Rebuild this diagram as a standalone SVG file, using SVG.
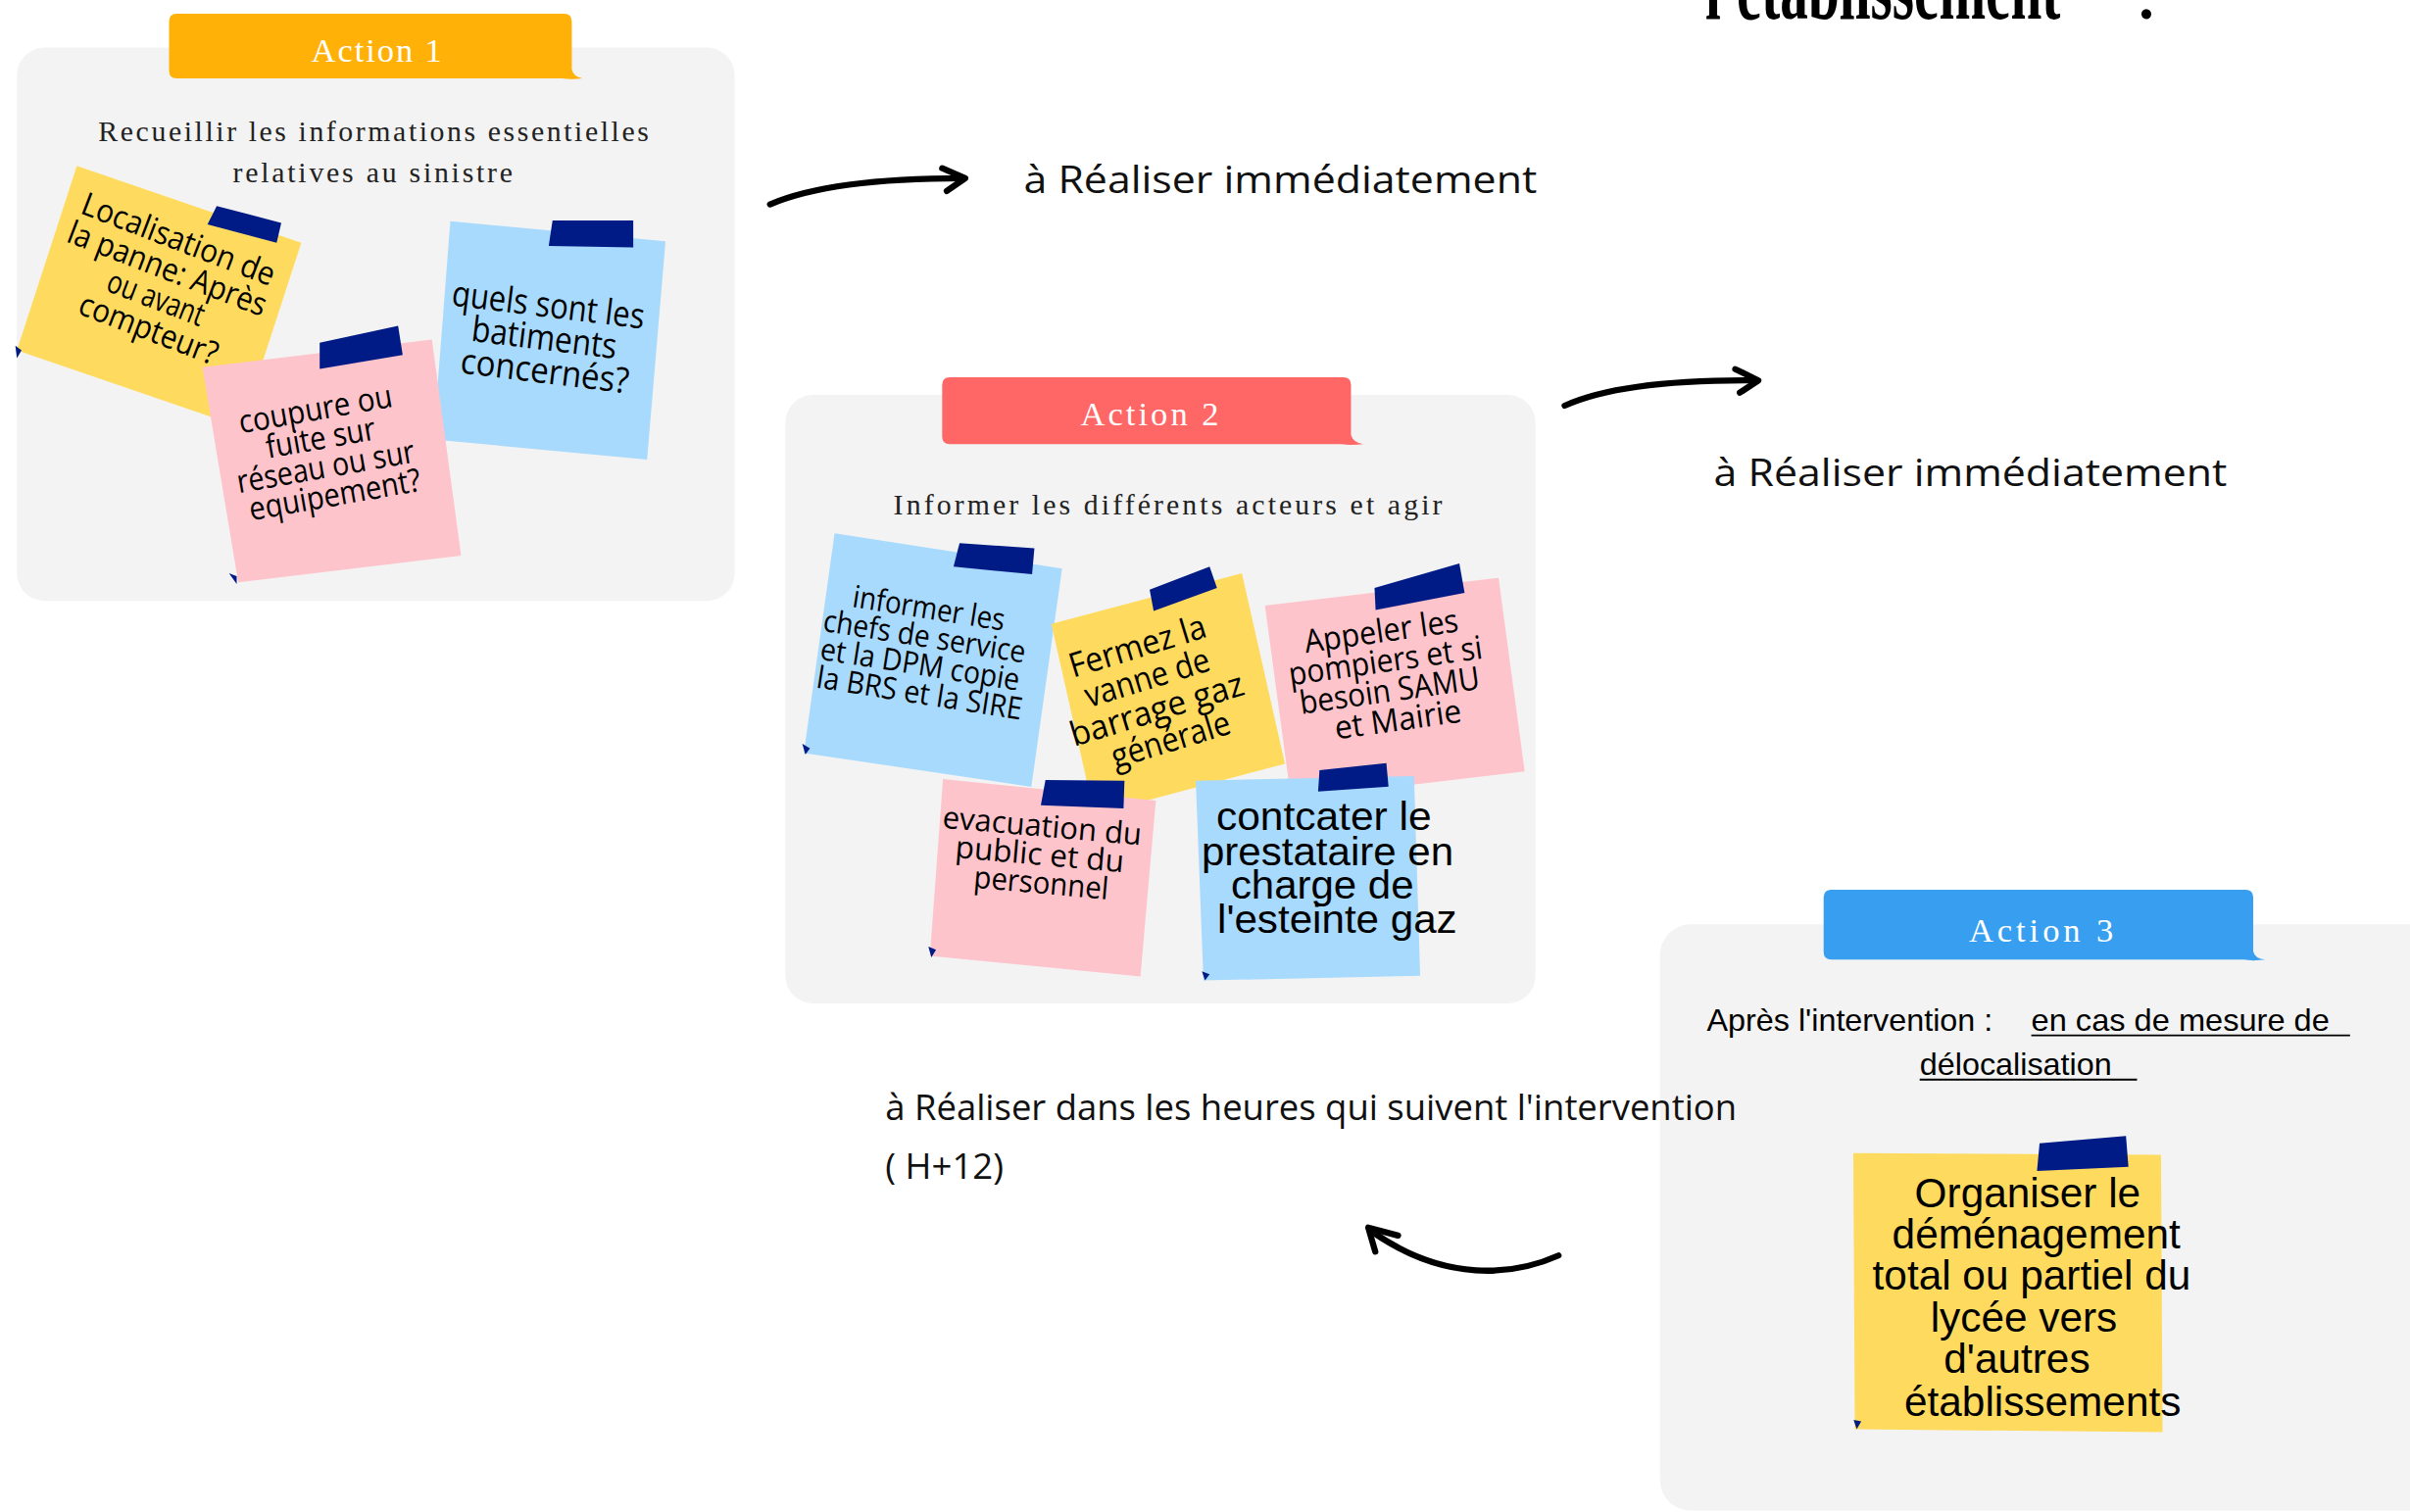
<svg xmlns="http://www.w3.org/2000/svg" width="2459" height="1543" viewBox="0 0 2459 1543">
<style>
.panel{fill:#f3f3f3}
.tape{fill:#001b86}
.corner{fill:#001b86}
.y{fill:#fedb5f}
.b{fill:#a8dafd}
.p{fill:#fec4cc}
.hand{font-family:"Open Sans","DejaVu Sans",sans-serif;fill:#000;text-anchor:middle}
.lbl{font-family:"Liberation Serif",serif;fill:#fff;font-size:22px}
.sub{font-family:"Liberation Serif",serif;fill:#222;font-size:19px}
.cal{font-family:"Open Sans","Lato",sans-serif;fill:#111}
.ar{font-family:"Liberation Sans",Arial,sans-serif;fill:#000}
.arw{fill:none;stroke:#000;stroke-width:4;stroke-linecap:round;stroke-linejoin:round}
.ul{stroke:#000;stroke-width:1.2}
</style>
<rect width="2459" height="1543" fill="#fff"/>
<g transform="scale(1.56824)">
  <g id="title">
    <text x="1109.6" y="12" font-family="Liberation Serif,serif" font-weight="bold" font-size="58" textLength="231" lengthAdjust="spacingAndGlyphs">l'établissement</text>
    <text x="1390" y="12" font-family="Liberation Serif,serif" font-weight="bold" font-size="40">:</text>
  </g>

  <!-- Action 1 -->
  <g id="action1">
    <rect class="panel" x="11" y="31" width="467" height="360" rx="18"/>
    <path fill="#ffb107" d="M115,9 H367 Q372,9 372,14 V45 Q373,50 379,51 Q371,52 366,51 H115 Q110,51 110,46 V14 Q110,9 115,9 Z"/>
    <text class="lbl" x="202.5" y="40.4" textLength="85" lengthAdjust="spacing">Action 1</text>
    <text class="sub" x="64" y="91.8" textLength="358" lengthAdjust="spacing">Recueillir les informations essentielles</text>
    <text class="sub" x="151.5" y="118.4" textLength="182" lengthAdjust="spacing">relatives au sinistre</text>
  </g>
  <g id="note-localisation">
    <polygon class="y" points="50,108 196,158 157,278 11,228"/>
    <polygon class="tape" points="141,134 183,145 180,158 135,146"/>
    <polygon class="corner" points="10,225 14,228 11,233"/>
    <text class="hand" font-size="21" transform="translate(107.5,186) rotate(21)">
      <tspan x="0" y="-24.25" textLength="133" lengthAdjust="spacingAndGlyphs">Localisation de</tspan>
      <tspan x="0" y="-3.75" textLength="137" lengthAdjust="spacingAndGlyphs">la panne: Après</tspan>
      <tspan x="0" y="16.75" textLength="66" lengthAdjust="spacingAndGlyphs">ou avant</tspan>
      <tspan x="0" y="37.25" textLength="95" lengthAdjust="spacingAndGlyphs">compteur?</tspan>
    </text>
  </g>
  <g id="note-batiments">
    <polygon class="b" points="293,144 433,157 421,299 282,286"/>
    <polygon class="tape" points="359.5,143.5 412,143.5 412,161 357,160"/>
    <polygon class="corner" points="281,281 286,283 283,288"/>
    <text class="hand" font-size="23" transform="translate(357,221) rotate(7)">
      <tspan x="0" y="-14.5" textLength="126" lengthAdjust="spacingAndGlyphs">quels sont les</tspan>
      <tspan x="0" y="7" textLength="95" lengthAdjust="spacingAndGlyphs">batiments</tspan>
      <tspan x="0" y="28.5" textLength="110" lengthAdjust="spacingAndGlyphs">concernés?</tspan>
    </text>
  </g>
  <g id="note-coupure">
    <polygon class="p" points="131.7,239 281,221 300,361.5 155,379"/>
    <polygon class="tape" points="208,223 259,212 262,231 208,240"/>
    <polygon class="corner" points="149,373 154,375 154,380"/>
    <text class="hand" font-size="21" transform="translate(213,294.5) rotate(-10)">
      <tspan x="0" y="-22" textLength="101" lengthAdjust="spacingAndGlyphs">coupure ou</tspan>
      <tspan x="0" y="-3" textLength="72" lengthAdjust="spacingAndGlyphs">fuite sur</tspan>
      <tspan x="0" y="16" textLength="117" lengthAdjust="spacingAndGlyphs">réseau ou sur</tspan>
      <tspan x="0" y="35" textLength="113" lengthAdjust="spacingAndGlyphs">equipement?</tspan>
    </text>
  </g>

  <!-- Action 2 -->
  <g id="action2">
    <rect class="panel" x="511" y="257" width="488" height="396" rx="18"/>
    <path fill="#ff6666" d="M618,245.5 H874 Q879,245.5 879,250.5 V283 Q880,288 887,289 Q878,290 873,289 H618 Q613,289 613,284 V250.5 Q613,245.5 618,245.5 Z"/>
    <text class="lbl" x="703" y="276.7" textLength="90" lengthAdjust="spacing">Action 2</text>
    <text class="sub" x="581.3" y="334.8" textLength="357" lengthAdjust="spacing">Informer les différents acteurs et agir</text>
  </g>
  <g id="note-informer">
    <polygon class="b" points="543,347 691,370 671,512 523,490"/>
    <polygon class="tape" points="624.3,353.5 673,356.7 671.5,373.7 620.4,368.8"/>
    <polygon class="corner" points="522,484 527,487 524,491"/>
    <text class="hand" font-size="20" transform="translate(602.5,424.5) rotate(9)">
      <tspan x="0" y="-21.75" textLength="100" lengthAdjust="spacingAndGlyphs">informer les</tspan>
      <tspan x="0" y="-3.25" textLength="133" lengthAdjust="spacingAndGlyphs">chefs de service</tspan>
      <tspan x="0" y="15.25" textLength="131" lengthAdjust="spacingAndGlyphs">et la DPM copie</tspan>
      <tspan x="0" y="33.75" textLength="135" lengthAdjust="spacingAndGlyphs">la BRS et la SIRE</tspan>
    </text>
  </g>
  <g id="note-vanne">
    <polygon class="y" points="684,406 808,373 836,497 712,530"/>
    <polygon class="tape" points="748,383.7 787,368.8 791.8,382.6 750.6,397.5"/>
    <text class="hand" font-size="22" transform="translate(752.5,451.5) rotate(-17)">
      <tspan x="0" y="-25.75" textLength="92" lengthAdjust="spacingAndGlyphs">Fermez la</tspan>
      <tspan x="0" y="-4.25" textLength="84" lengthAdjust="spacingAndGlyphs">vanne de</tspan>
      <tspan x="0" y="17.25" textLength="117" lengthAdjust="spacingAndGlyphs">barrage gaz</tspan>
      <tspan x="0" y="38.75" textLength="80" lengthAdjust="spacingAndGlyphs">générale</tspan>
    </text>
  </g>
  <g id="note-pompiers">
    <polygon class="p" points="823,394 975,376 992,502 840,520"/>
    <polygon class="tape" points="894.3,382.6 949.5,366.7 952.9,385.8 895,397"/>
    <text class="hand" font-size="21" transform="translate(905.5,440) rotate(-8)">
      <tspan x="0" y="-22.75" textLength="101" lengthAdjust="spacingAndGlyphs">Appeler les</tspan>
      <tspan x="0" y="-3.25" textLength="127" lengthAdjust="spacingAndGlyphs">pompiers et si</tspan>
      <tspan x="0" y="16.25" textLength="118" lengthAdjust="spacingAndGlyphs">besoin SAMU</tspan>
      <tspan x="0" y="35.75" textLength="83" lengthAdjust="spacingAndGlyphs">et Mairie</tspan>
    </text>
  </g>
  <g id="note-evacuation">
    <polygon class="p" points="613.5,507 752,521 742,635.5 605,622"/>
    <polygon class="tape" points="680.2,507.6 731.6,508 731,526 677.2,524"/>
    <polygon class="corner" points="604,616 609,618 606,623"/>
    <text class="hand" font-size="20" transform="translate(679,557) rotate(5)">
      <tspan x="0" y="-12.5" textLength="130" lengthAdjust="spacingAndGlyphs">evacuation du</tspan>
      <tspan x="0" y="6" textLength="110" lengthAdjust="spacingAndGlyphs">public et du</tspan>
      <tspan x="0" y="24.5" textLength="88" lengthAdjust="spacingAndGlyphs">personnel</tspan>
    </text>
  </g>
  <g id="note-prestataire">
    <polygon class="b" points="778,508 920,505 924,635 783,638"/>
    <polygon class="tape" points="858.5,501.2 902,496.5 903.4,511.8 857.6,515"/>
    <polygon class="corner" points="782,632 787,634 784,638"/>
    <text class="ar" font-size="26.5" text-anchor="middle">
      <tspan x="865" y="540" textLength="140" lengthAdjust="spacingAndGlyphs">contcater le</tspan>
      <tspan x="867.4" y="562.9" textLength="164" lengthAdjust="spacingAndGlyphs">prestataire en</tspan>
      <tspan x="864" y="585" textLength="119" lengthAdjust="spacingAndGlyphs">charge de</tspan>
      <tspan x="870" y="606.9" textLength="156" lengthAdjust="spacingAndGlyphs">l'esteinte gaz</tspan>
    </text>
  </g>

  <!-- Action 3 -->
  <g id="action3">
    <rect class="panel" x="1080" y="601.5" width="520" height="381.5" rx="20"/>
    <path fill="#389ff0" d="M1191.5,579 H1461 Q1466,579 1466,584 V619 Q1467,624 1474,624.5 Q1465,625.5 1460,624.5 H1191.5 Q1186.5,624.5 1186.5,619.5 V584 Q1186.5,579 1191.5,579 Z"/>
    <text class="lbl" x="1281" y="612.6" textLength="94" lengthAdjust="spacing">Action 3</text>
    <text class="ar" x="1110.5" y="670.6" font-size="20" textLength="186" lengthAdjust="spacingAndGlyphs">Après l'intervention :</text>
    <text class="ar" x="1321.6" y="670.6" font-size="20" textLength="194" lengthAdjust="spacingAndGlyphs">en cas de mesure de</text>
    <line class="ul" x1="1321.6" y1="673.8" x2="1529" y2="673.8"/>
    <text class="ar" x="1249" y="699.7" font-size="20" textLength="125" lengthAdjust="spacingAndGlyphs">délocalisation</text>
    <line class="ul" x1="1249" y1="702.5" x2="1390.4" y2="702.5"/>
  </g>
  <g id="note-demenagement">
    <polygon class="y" points="1205.8,750.3 1406,751.4 1407,932 1206.8,930"/>
    <polygon class="tape" points="1327,744 1383.2,739.2 1384.8,759.3 1325.3,762"/>
    <polygon class="corner" points="1206,924 1211,925 1208,930"/>
    <text class="ar" font-size="27" text-anchor="middle">
      <tspan x="1323" y="785.4">Organiser le</tspan>
      <tspan x="1328.6" y="812.4">déménagement</tspan>
      <tspan x="1325.6" y="839.2">total ou partiel du</tspan>
      <tspan x="1320.5" y="866.8">lycée vers</tspan>
      <tspan x="1316" y="893.2">d'autres</tspan>
      <tspan x="1329" y="921.4">établissements</tspan>
    </text>
  </g>

  <!-- timing labels -->
  <g id="timing">
    <text class="cal" x="666" y="125.5" font-size="25" textLength="334" lengthAdjust="spacingAndGlyphs">à Réaliser immédiatement</text>
    <text class="cal" x="1115" y="316" font-size="25" textLength="334" lengthAdjust="spacingAndGlyphs">à Réaliser immédiatement</text>
    <text class="cal" x="576" y="728.7" font-size="23" textLength="554" lengthAdjust="spacingAndGlyphs">à Réaliser dans les heures qui suivent l'intervention</text>
    <text class="cal" x="576" y="767" font-size="23" textLength="77" lengthAdjust="spacingAndGlyphs">( H+12)</text>
  </g>

  <g id="connectors">
    <path class="arw" d="M501,133 C522,124 560,116 627,116"/>
    <path class="arw" d="M613,109.5 L628,116 L616,124.3"/>
    <path class="arw" d="M1018,264 C1040,254 1080,247 1143,247.5"/>
    <path class="arw" d="M1129,240.2 L1144,247.6 L1132,255.5"/>
    <path class="arw" d="M1014,817 C985,830 940,835 892,801" stroke-width="3.5"/>
    <path class="arw" d="M909.6,804 L890.2,798.8 L894.8,814.5" stroke-width="3.5"/>
  </g>
</g>
</svg>
